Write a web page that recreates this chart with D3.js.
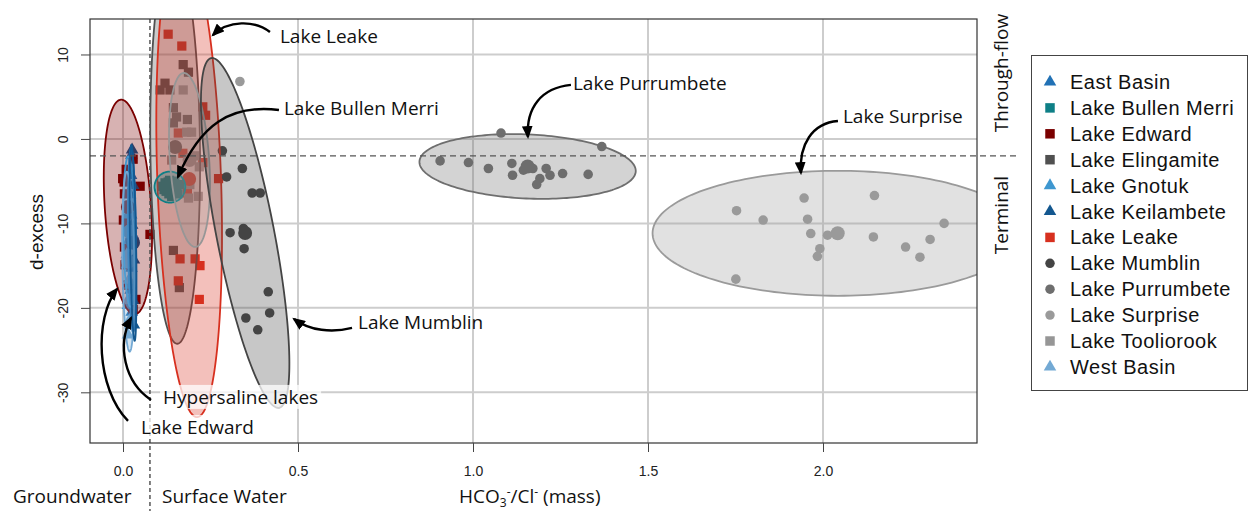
<!DOCTYPE html>
<html>
<head>
<meta charset="utf-8">
<script src="https://cdn.jsdelivr.net/npm/d3@7"></script>
<style>
  body { margin: 0; background: #fff; }
  svg { display: block; }
</style>
</head>
<body>
<svg id="chart" width="1255" height="511"></svg>
<script>
// ---- axes ----
const xTicks = [0, 0.5, 1.0, 1.5, 2.0];
const yTicks = [-30, -20, -10, 0, 10];
const xDomain = [-0.0943, 2.44];
const yDomain = [-36.0, 14.2];
const throughFlowCut = -2;      // d-excess separating through-flow from terminal lakes
const groundwaterCut = 0.077;   // HCO3/Cl separating groundwater from surface water

// ---- lakes ----
const lakeNames = ["East Basin", "Lake Bullen Merri", "Lake Edward", "Lake Elingamite",
  "Lake Gnotuk", "Lake Keilambete", "Lake Leake", "Lake Mumblin", "Lake Purrumbete",
  "Lake Surprise", "Lake Tooliorook", "West Basin"];
const lakeColors = ["#2171b5", "#0e7f86", "#7a0000", "#505050", "#3e97d0", "#13578f",
  "#d7301f", "#444444", "#6e6e6e", "#9a9a9a", "#969696", "#73a9d4"];
const lakeShapes = ["triangle", "square", "square", "square", "triangle", "triangle",
  "square", "circle", "circle", "circle", "square", "triangle"];

// ---- samples: [HCO3/Cl, d-excess] ----
const eastBasin = [[0.024,-1.9],[0.023,-4.3],[0.020,-6.6],[0.023,-9.0],[0.022,-12.6],[0.024,-15.3],[0.022,-17.9],[0.025,-20.5]];
const lakeBullenMerri = [[0.120,-5.2],[0.129,-5.1],[0.144,-5.6],[0.153,-6.2],[0.123,-6.2],[0.139,-6.8],[0.163,-5.4],[0.111,-5.6],[0.133,-4.9],[0.148,-5.0],[0.131,-6.5],[0.117,-6.0],[0.157,-6.5],[0.136,-5.5]];
const lakeEdward = [[0.029,-2.4],[0.009,-3.6],[-0.001,-4.7],[0.003,-5.1],[0.049,-5.6],[0.004,-6.5],[0.011,-8.0],[0.001,-9.6],[0.015,-10.4],[0.077,-11.3],[0.004,-12.8],[0.006,-14.9],[0.011,-17.3],[0.037,-19.0],[0.029,-20.2]];
const lakeElingamite = [[0.172,8.8],[0.187,7.9],[0.120,6.6],[0.106,5.8],[0.134,5.8],[0.144,3.7],[0.153,2.6],[0.144,1.9],[0.184,2.3],[0.144,-13.2],[0.161,-17.6]];
const lakeGnotuk = [[0.014,-9.0],[0.017,-12.0],[0.011,-14.9],[0.020,-17.3],[0.014,-19.7]];
const lakeKeilambete = [[0.026,-1.3],[0.029,-5.5],[0.026,-10.2],[0.031,-14.3],[0.029,-19.1],[0.031,-22.0]];
const lakeLeake = [[0.129,12.4],[0.168,11.0],[0.228,3.8],[0.236,2.8],[0.158,0.7],[0.171,-1.7],[0.228,-2.8],[0.273,-4.7],[0.184,-6.4],[0.163,-14.2],[0.206,-14.2],[0.220,-15.0],[0.158,-16.8],[0.218,-19.0]];
const lakeMumblin = [[0.284,-1.4],[0.341,-3.5],[0.296,-4.5],[0.369,-6.4],[0.392,-6.4],[0.306,-11.1],[0.344,-10.6],[0.346,-13.0],[0.415,-18.1],[0.419,-20.6],[0.351,-21.2],[0.385,-22.6]];
const lakePurrumbete = [[1.080,0.7],[1.368,-0.9],[0.906,-2.6],[0.987,-2.8],[1.044,-3.5],[1.111,-2.9],[1.113,-4.3],[1.144,-3.7],[1.155,-3.2],[1.171,-3.5],[1.209,-3.5],[1.220,-4.3],[1.191,-4.7],[1.182,-5.4],[1.256,-4.1],[1.329,-4.2]];
const lakeSurprise = [[1.753,-8.5],[1.829,-9.6],[1.946,-7.0],[1.956,-9.5],[1.965,-11.2],[2.013,-11.4],[1.991,-13.0],[1.984,-13.9],[1.751,-16.6],[2.147,-6.7],[2.144,-11.6],[2.236,-12.8],[2.277,-14.0],[2.306,-11.9],[2.346,-10.0],[0.334,6.8]];
const lakeTooliorook = [[0.172,5.8],[0.182,0.8],[0.196,0.8],[0.139,-2.5],[0.206,-2.0],[0.218,-3.3],[0.191,-5.4],[0.187,-7.0],[0.215,-6.8]];
const westBasin = [[0.011,-13.7],[0.017,-16.7],[0.014,-19.1],[0.020,-21.4],[0.014,-23.2]];

const lakeSamples = [eastBasin, lakeBullenMerri, lakeEdward, lakeElingamite, lakeGnotuk,
  lakeKeilambete, lakeLeake, lakeMumblin, lakePurrumbete, lakeSurprise, lakeTooliorook, westBasin];

// ---- data ellipses: centre and two conjugate semi-axes, in data units ----
const ellipseCentres = [[0.026,-12.0],[0.134,-5.7],[0.014,-8.05],[0.149,-0.95],[0.018,-10.97],[0.0286,-12.3],
  [0.189,-4.74],[0.349,-11.13],[1.156,-3.26],[2.042,-11.17],[0.190,-2.49],[0.015,-14.53]];
const ellipseAxisA = [[0.003,-10.9],[0,-1.84],[0.020,-12.7],[0.006,-23.3],[0.003,-8.9],[0.0047,-11.6],
  [0.023,-28.2],[0.097,-20.7],[0.309,-0.58],[0.529,0],[0.017,-10.3],[0.004,-10.65]];
const ellipseAxisB = [[0.0114,0],[0.044,0],[0.066,0.18],[0.071,0.03],[0.017,0],[0.0086,0],
  [0.091,0.13],[0.081,0.65],[-0.004,-3.79],[0,7.4],[0.056,0.16],[0.017,0]];
// stacking order of the ellipses (index into the lake arrays)
const ellipseOrder = [2, 0, 4, 11, 5, 3, 6, 1, 10, 7, 8, 9];

// ---- annotations: arrow tip in data units, curve and label offsets in px ----
const annotations = [
  { text: "Lake Leake", tip: [0.257, 12.3], start: [57,-3], c1: [42,-15], c2: [15,-15], label: [67, 8] },
  { text: "Lake Bullen Merri", tip: [0.157, -4.5], start: [101,-67], c1: [52,-73], c2: [22,-52], label: [106,-62] },
  { text: "Lake Purrumbete", tip: [1.157, 0.24], start: [43,-52], c1: [13,-49], c2: [-2,-29], label: [45,-47] },
  { text: "Lake Surprise", tip: [1.937, -4.03], start: [37,-52], c1: [11,-50], c2: [-2,-28], label: [42,-50] },
  { text: "Lake Mumblin", tip: [0.4886, -21.31], start: [58,9], c1: [38,14], c2: [16,12], label: [64,10] },
  { text: "Hypersaline lakes", tip: [0.0229, -21.19], start: [20,82], c1: [-7,64], c2: [-14,27], label: [32,86], halo: true },
  { text: "Lake Edward", tip: [-0.0171, -17.76], start: [11,132], c1: [-21,99], c2: [-23,29], label: [24,145], halo: true }
];

// ---- layout ----
const plot = { left: 90, right: 977, top: 19, bottom: 443 };
const svg = d3.select("#chart");
const x = d3.scaleLinear().domain(xDomain).range([plot.left, plot.right]);
const y = d3.scaleLinear().domain(yDomain).range([plot.bottom, plot.top]);
const annoFont = "'Open Sans', 'Noto Sans', sans-serif";
const axisFont = "'Liberation Sans', Arial, sans-serif";

svg.append("defs").append("clipPath").attr("id", "plot-clip")
  .append("rect").attr("x", plot.left).attr("y", plot.top)
  .attr("width", plot.right - plot.left).attr("height", plot.bottom - plot.top);
svg.select("defs").append("marker")
  .attr("id", "arrowhead").attr("markerUnits", "userSpaceOnUse")
  .attr("viewBox", "0 0 12 10").attr("refX", 10).attr("refY", 5)
  .attr("markerWidth", 13).attr("markerHeight", 11).attr("orient", "auto")
  .append("path").attr("d", "M0,0 L12,5 L0,10 Z").attr("fill", "#000");

// grid
const grid = svg.append("g").attr("stroke", "#cdcdcd").attr("stroke-width", 2);
grid.selectAll("line.gx").data(xTicks).join("line")
  .attr("x1", d => x(d)).attr("x2", d => x(d)).attr("y1", plot.top).attr("y2", plot.bottom);
grid.selectAll("line.gy").data(yTicks).join("line")
  .attr("y1", d => y(d)).attr("y2", d => y(d)).attr("x1", plot.left).attr("x2", plot.right);

// samples
const symbolType = { triangle: d3.symbolTriangle, square: d3.symbolSquare, circle: d3.symbolCircle };
const symbolSize = { triangle: 70, square: 85, circle: 72 };
const inner = svg.append("g").attr("clip-path", "url(#plot-clip)");
lakeSamples.forEach((pts, i) => {
  const shape = lakeShapes[i];
  inner.append("g").selectAll("path").data(pts).join("path")
    .attr("transform", d => `translate(${x(d[0])},${y(d[1])})`)
    .attr("d", d3.symbol(symbolType[shape], symbolSize[shape]))
    .attr("fill", lakeColors[i]);
});
// centroid markers
inner.append("g").selectAll("circle").data(ellipseCentres).join("circle")
  .attr("cx", d => x(d[0])).attr("cy", d => y(d[1])).attr("r", 7)
  .attr("fill", (d, i) => lakeColors[i]);

// ellipses
function ellipsePath(c, a, b) {
  const pts = d3.range(0, 360, 2).map(deg => {
    const t = deg * Math.PI / 180;
    return [x(c[0] + a[0] * Math.cos(t) + b[0] * Math.sin(t)),
            y(c[1] + a[1] * Math.cos(t) + b[1] * Math.sin(t))];
  });
  return d3.line().curve(d3.curveLinearClosed)(pts);
}
inner.append("g").selectAll("path").data(ellipseOrder).join("path")
  .attr("d", i => ellipsePath(ellipseCentres[i], ellipseAxisA[i], ellipseAxisB[i]))
  .attr("fill", i => lakeColors[i]).attr("fill-opacity", 0.3)
  .attr("stroke", i => lakeColors[i]).attr("stroke-width", 1.8);

// reference lines
svg.append("line")
  .attr("x1", plot.left).attr("x2", 1020).attr("y1", y(throughFlowCut)).attr("y2", y(throughFlowCut))
  .attr("stroke", "#555").attr("stroke-width", 1.2).attr("stroke-dasharray", "6,4");
svg.append("line")
  .attr("x1", x(groundwaterCut)).attr("x2", x(groundwaterCut)).attr("y1", plot.top).attr("y2", 511)
  .attr("stroke", "#555").attr("stroke-width", 1.5).attr("stroke-dasharray", "4,3");

// frame
svg.append("rect").attr("x", plot.left).attr("y", plot.top)
  .attr("width", plot.right - plot.left).attr("height", plot.bottom - plot.top)
  .attr("fill", "none").attr("stroke", "#333").attr("stroke-width", 1.2);

// axes
const xAxis = svg.append("g").attr("transform", `translate(0,${plot.bottom})`)
  .call(d3.axisBottom(x).tickValues(xTicks).tickFormat(d => d.toFixed(1)).tickSize(9).tickPadding(14));
const yAxis = svg.append("g").attr("transform", `translate(${plot.left},0)`)
  .call(d3.axisLeft(y).tickValues(yTicks).tickFormat(d => String(d)).tickSize(9));
[xAxis, yAxis].forEach(g => {
  g.select(".domain").remove();
  g.selectAll(".tick line").attr("stroke", "#444");
  g.selectAll("text").attr("font-family", axisFont).attr("font-size", 14).attr("fill", "#222");
});
yAxis.selectAll(".tick text")
  .attr("x", null).attr("dy", null).attr("text-anchor", "middle")
  .attr("transform", "translate(-22,0) rotate(-90)");

// axis titles
svg.append("text").attr("transform", "translate(43,232) rotate(-90)")
  .attr("text-anchor", "middle").attr("font-family", axisFont).attr("font-size", 19)
  .attr("fill", "#111").text("d-excess");
const xt = svg.append("text").attr("x", 459).attr("y", 503)
  .attr("font-family", annoFont).attr("font-size", 19).attr("fill", "#111");
xt.append("tspan").text("HCO");
xt.append("tspan").attr("font-size", 12).attr("dy", 4).text("3");
xt.append("tspan").attr("font-size", 12).attr("dy", -11).text("-");
xt.append("tspan").attr("dy", 7).text("/Cl");
xt.append("tspan").attr("font-size", 12).attr("dy", -7).text("-");
xt.append("tspan").attr("dy", 7).text(" (mass)");
svg.append("text").attr("x", 13).attr("y", 503).attr("font-family", annoFont)
  .attr("font-size", 19).attr("fill", "#111").text("Groundwater");
svg.append("text").attr("x", 162).attr("y", 503).attr("font-family", annoFont)
  .attr("font-size", 19).attr("fill", "#111").text("Surface Water");
svg.append("text").attr("transform", "translate(1008,73) rotate(-90)")
  .attr("text-anchor", "middle").attr("font-family", annoFont).attr("font-size", 19)
  .attr("fill", "#111").text("Through-flow");
svg.append("text").attr("transform", "translate(1008,215) rotate(-90)")
  .attr("text-anchor", "middle").attr("font-family", annoFont).attr("font-size", 19)
  .attr("fill", "#111").text("Terminal");

// annotations
const ann = svg.append("g");
annotations.forEach(a => {
  const tx = x(a.tip[0]), ty = y(a.tip[1]);
  const lx = tx + a.label[0], ly = ty + a.label[1];
  const t = ann.append("text").attr("x", lx).attr("y", ly)
    .attr("font-family", annoFont).attr("font-size", 19).attr("fill", "#111").text(a.text);
  if (a.halo) {
    const bb = t.node().getBBox();
    ann.insert("rect", "text").attr("x", bb.x - 3).attr("y", bb.y + 1)
      .attr("width", bb.width + 6).attr("height", bb.height - 2)
      .attr("fill", "#fff").attr("fill-opacity", 0.75);
  }
  const p = d3.path();
  p.moveTo(tx + a.start[0], ty + a.start[1]);
  p.bezierCurveTo(tx + a.c1[0], ty + a.c1[1], tx + a.c2[0], ty + a.c2[1], tx, ty);
  ann.append("path").attr("d", p.toString()).attr("fill", "none")
    .attr("stroke", "#000").attr("stroke-width", 2.4).attr("marker-end", "url(#arrowhead)");
});

// legend
const legend = svg.append("g");
legend.append("rect").attr("x", 1031.5).attr("y", 55.5).attr("width", 216).attr("height", 335)
  .attr("fill", "#fff").attr("stroke", "#444").attr("stroke-width", 1);
const legendSize = { triangle: 68, square: 90, circle: 70 };
const rows = legend.selectAll("g.row").data(lakeNames).join("g")
  .attr("transform", (d, i) => `translate(1050,${82 + i * 25.9})`);
rows.append("path")
  .attr("d", (d, i) => d3.symbol(symbolType[lakeShapes[i]], legendSize[lakeShapes[i]])())
  .attr("fill", (d, i) => lakeColors[i]);
rows.append("text").attr("x", 20).attr("y", 7)
  .attr("font-family", axisFont).attr("font-size", 20).attr("letter-spacing", 0.5)
  .attr("fill", "#111").text(d => d);
</script>
</body>
</html>
